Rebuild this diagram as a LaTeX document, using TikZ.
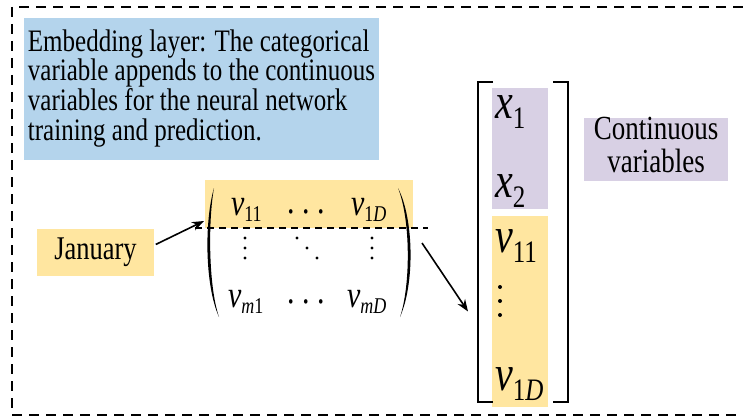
\documentclass[tikz,border=0pt]{standalone}
\usepackage{fontspec}
\setmainfont{Liberation Serif}
\usetikzlibrary{arrows.meta,calc}
\definecolor{bluebox}{RGB}{180,212,236}
\definecolor{yel}{RGB}{255,230,160}
\definecolor{purp}{RGB}{216,208,228}
\newcommand{\st}[1]{\scalebox{1}[1.25]{#1}}
\newcommand{\mentry}[2]{\st{\fontsize{30}{30}\selectfont\textit{#1}\raisebox{-5pt}{\fontsize{18}{18}\selectfont #2}}}
\newcommand{\ventry}[2]{\st{\fontsize{40}{40}\selectfont\textit{#1}\raisebox{-8pt}{\fontsize{25}{25}\selectfont #2}}}
\begin{document}
\begin{tikzpicture}[x=1pt,y=-1pt,
  box/.style={draw=none, inner sep=0pt, outer sep=0pt},
  lab/.style={inner sep=0pt, outer sep=0pt},
  arr/.style={-{Stealth[length=12pt,width=9pt]}, line width=1.6pt},
  brk/.style={line width=2pt},
  frame/.style={dash pattern=on 10pt off 7pt, line width=1.4pt},
  sep/.style={dash pattern=on 7pt off 5pt, line width=1.2pt},
  dotm/.style={fill=black},
  ]
\useasboundingbox (0,0) rectangle (743,417);
\draw[frame] (743,7) -- (12,7) -- (12,415) -- (743,415);

% coloured boxes
\node[box, fill=bluebox, minimum width=355pt, minimum height=142pt] (emb) at (201.5,89)
  {\st{\fontsize{25}{21.4}\selectfont\begin{tabular}{@{}l@{}}Embedding layer: The categorical\\variable appends to the continuous\\variables for the neural network\\training and prediction.\end{tabular}}};
\node[box, fill=yel, minimum width=117pt, minimum height=47pt] (jan) at (95.5,252.5)
  {\st{\fontsize{26.5}{26.5}\selectfont January}};
\node[box, fill=purp, minimum width=144pt, minimum height=61pt] (cont) at (656,149.5)
  {\st{\fontsize{27}{24}\selectfont\begin{tabular}{@{}c@{}}Continuous\\variables\end{tabular}}};
\node[box, fill=yel, minimum width=208pt, minimum height=48pt] (hl) at (309,204) {};
\node[box, fill=purp, minimum width=56pt, minimum height=121pt] (vp) at (520,148.5) {};
\node[box, fill=yel, minimum width=56pt, minimum height=191pt] (vy) at (520,311.5) {};

% matrix
\fill (214,188) .. controls (204.5,220) and (204.5,285) .. (219,317)
      .. controls (208.2,285) and (208.2,220) .. (214,188) -- cycle;
\fill (398,188) .. controls (414.4,220) and (414.4,285) .. (400,317)
      .. controls (410.7,285) and (410.7,220) .. (398,188) -- cycle;
\node[lab, anchor=base west] (m11) at (231,215) {\mentry{v}{11}};
\node[lab, anchor=base] (mc1) at (306,222.6) {\scalebox{3.4}[4.25]{$\cdots$}};
\node[lab, anchor=base west] (m1D) at (351,215) {\mentry{v}{1\textit{D}}};
\node[lab, anchor=base west] (mm1) at (228,307.5) {\mentry{v}{\textit{m}1}};
\node[lab, anchor=base] (mc3) at (306,312.6) {\scalebox{3.4}[4.25]{$\cdots$}};
\node[lab, anchor=base west] (mmD) at (347,307.5) {\mentry{v}{\textit{mD}}};
\foreach \yy in {238,248,258} {
  \fill[dotm] (245,\yy) circle (1.7pt);
  \fill[dotm] (372,\yy) circle (1.7pt);
}
\foreach \xx/\yy in {297/238,307/248,317/258} {
  \fill[dotm] (\xx,\yy) circle (1.7pt);
}
\draw[sep] ($(hl.south west)+(-10,0)$) -- ($(hl.south east)+(15,0)$);

% vector
\draw[brk] (493,82) -- (478,82) -- (478,402) -- (493,402);
\draw[brk] (553,82) -- (568,82) -- (568,402) -- (553,402);
\node[lab, anchor=base west] (x1) at (495,118) {\ventry{x}{1}};
\node[lab, anchor=base west] (x2) at (495,197) {\ventry{x}{2}};
\node[lab, anchor=base west] (v11) at (495,252) {\ventry{v}{11}};
\foreach \yy in {287,301,315} {
  \fill[dotm] (500,\yy) circle (2pt);
}
\node[lab, anchor=base west] (v1D) at (495,390) {\ventry{v}{1\textit{D}}};

% arrows
\draw[arr, shorten <=2pt] (jan.7) -- ($(hl.south west)+(-1,-7)$);
\draw[arr] ($(hl.south east)+(9,15)$) -- ($(vy.west)+(-24,0)$);
\end{tikzpicture}
\end{document}
